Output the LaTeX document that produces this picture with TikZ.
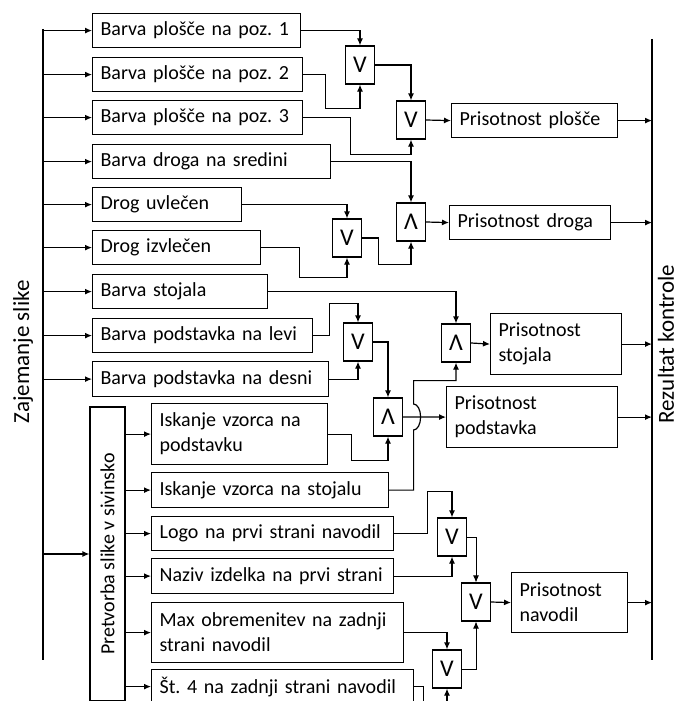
\documentclass[tikz,border=0pt]{standalone}
\usepackage{fontspec}
\setmainfont{Carlito}
\usepackage{graphicx}
\usetikzlibrary{calc,arrows.meta}
\tikzset{
	blok/.style={draw, line width=1.2pt, anchor=north west, align=left, inner xsep=8pt, inner ysep=0pt, text width=#1, minimum height=34pt, font=\fontsize{20}{25}\selectfont\frenchspacing},
	vrata/.style={draw, line width=1.2pt, minimum width=29pt, minimum height=38pt, inner sep=0pt, font=\fontsize{24}{24}\selectfont},
	povezava/.style={line width=1.2pt, -{Latex[length=7pt,width=6pt]}},
	vodilo/.style={line width=2.4pt},
	napis/.style={rotate=90, inner sep=0pt, font=\fontsize{23}{23}\selectfont},
}

\begin{document}
\begin{tikzpicture}[x=1pt, y=-1pt]
			%%%%% START %%%%%
			\useasboundingbox (0,0) rectangle (678,701);
			\clip (0,0) rectangle (678,701);
			
			\coordinate (zajz) at (43,29);
			\coordinate (zajk) at (43,660);
			\coordinate (rezz) at (652,39);
			\coordinate (rezk) at (652,660);
			\draw[vodilo] (zajz) -- (zajk);
			\draw[vodilo] (rezz) -- (rezk);
			\node[napis] (zaj) at (23,352) {Zajemanje slike};
			\node[napis] (rez) at (666,344) {Rezultat kontrole};
			
			\node[blok=192pt] (bp1) at (92,13) {Barva plošče na poz. 1};
			\node[blok=194pt] (bp2) at (92,57) {Barva plošče na poz. 2};
			\node[blok=194pt] (bp3) at (92,100) {Barva plošče na poz. 3};
			\node[blok=222pt] (bds) at (92,144) {Barva droga na sredini};
			\node[blok=133pt] (du) at (92,187) {Drog uvlečen};
			\node[blok=152pt] (di) at (92,230) {Drog izvlečen};
			\node[blok=159pt] (bs) at (92,274) {Barva stojala};
			\node[blok=204pt] (bpl) at (92,318) {Barva podstavka na levi};
			\node[blok=220pt, minimum height=35pt] (bpd) at (92,361) {Barva podstavka na desni};
			
			\node[draw, line width=1.2pt, minimum width=35pt, minimum height=294pt, inner sep=0pt, font=\fontsize{20}{25}\selectfont] (pretv) at (107.5,554) {\rotatebox{90}{Pretvorba slike v sivinsko}};
			
			\node[blok=160pt, minimum height=61pt] (ivp) at (151,403) {Iskanje vzorca na\\podstavku};
			\node[blok=221pt, minimum height=35pt] (ivs) at (151,472) {Iskanje vzorca na stojalu};
			\node[blok=226pt] (lpn) at (151,516) {Logo na prvi strani navodil};
			\node[blok=226pt, minimum height=35pt] (niz) at (151,558) {Naziv izdelka na prvi strani};
			\node[blok=236pt, minimum height=60pt] (mo) at (151,602) {Max obremenitev na zadnji\\strani navodil};
			\node[blok=246pt] (st4) at (151,669) {Št. 4 na zadnji strani navodil};
			
			\node[vrata] (ili1) at (360,65) {V};
			\node[vrata] (ili2) at (411,120) {V};
			\node[vrata] (in1) at (411,222) {Λ};
			\node[vrata] (ili3) at (347,238) {V};
			\node[vrata] (in2) at (456,343) {Λ};
			\node[vrata] (ili4) at (358,342) {V};
			\node[vrata] (in3) at (388,417) {Λ};
			\node[vrata] (ili5) at (452,537) {V};
			\node[vrata] (ili6) at (476,602) {V};
			\node[vrata] (ili7) at (447,669) {V};
			
			\node[blok=150pt] (pp) at (451,103) {Prisotnost plošče};
			\node[blok=145pt] (pd) at (449,205) {Prisotnost droga};
			\node[blok=115pt, minimum height=61pt] (pst) at (490,313) {Prisotnost\\stojala};
			\node[blok=155pt, minimum height=61pt] (ppo) at (446,386) {Prisotnost\\podstavka};
			\node[blok=100pt, minimum height=60pt] (pn) at (511,572) {Prisotnost\\navodil};
			
			% zajemanje -> bloki
			\foreach \n in {bp1,bp2,bp3,bds,du,di,bs,bpl,bpd}
				\draw[povezava] (\n.west -| zajz) -- (\n.west);
			\draw[povezava] (pretv.west -| zajz) -- (pretv.west);
			\foreach \n in {ivp,ivs,lpn,niz,mo,st4}
				\draw[povezava] (\n.west -| pretv.east) -- (\n.west);
			
			% plosce
			\draw[povezava] (bp1.east) -| (ili1.north);
			\draw[povezava] (bp2.east) -- ++(22,0) |- ($(ili1.south)+(0,24)$) -- (ili1.south);
			\draw[povezava] (ili1.east) -| (ili2.north);
			\draw[povezava] (bp3.east) -- ++(47,0) |- ($(ili2.south)+(0,15)$) -- (ili2.south);
			\draw[povezava] (ili2.east) -- (pp.west);
			
			% drog
			\draw[povezava] (bds.east) -| (in1.north);
			\draw[povezava] (du.east) -| (ili3.north);
			\draw[povezava] (di.east) -- ++(38,0) |- ($(ili3.south)+(0,20)$) -- (ili3.south);
			\draw[povezava] (ili3.east) -- ++(16,0) |- ($(in1.south)+(0,23)$) -- (in1.south);
			\draw[povezava] (in1.east) -- (pd.west);
			
			% stojalo in podstavek
			\draw[povezava] (bs.east) -| (in2.north);
			\draw[povezava] (bpl.east) -- ++(16,0) |- ($(ili4.north)+(0,-19)$) -- (ili4.north);
			\draw[povezava] (bpd.east) -| (ili4.south);
			\draw[povezava] (ili4.east) -| (in3.north);
			\draw[povezava] (ivp.east) -- ++(23,0) |- ($(in3.south)+(0,24)$) -- (in3.south);
			\draw[povezava] (in3.east) -- (ppo.west);
			\draw[povezava] (ivs.east) -| ($(in3.east)+(10.5,13)$) arc[start angle=90, end angle=-90, x radius=7, y radius=13] |- ($(in2.south)+(0,18)$) -- (in2.south);
			\draw[povezava] (in2.east) -- (pst.west);
			
			% navodila
			\draw[povezava] (lpn.east) -- ++(33,0) |- ($(ili5.north)+(0,-26)$) -- (ili5.north);
			\draw[povezava] (niz.east) -| (ili5.south);
			\draw[povezava, line width=0.8pt] (ili5.east) -| (ili6.north);
			\draw[povezava] (mo.east) -| (ili7.north);
			\draw[povezava] (st4.east) -- ++(9,0) |- ($(ili7.south)+(0,25)$) -- (ili7.south);
			\draw[povezava, line width=0.8pt] (ili7.east) -| (ili6.south);
			\draw[povezava] (ili6.east) -- (pn.west);
			
			% rezultat
			\foreach \n in {pp,pd,pst,ppo,pn}
				\draw[povezava] (\n.east) -- (\n.east -| rezz);
			%%%%% END %%%%%
\end{tikzpicture}
\end{document}
